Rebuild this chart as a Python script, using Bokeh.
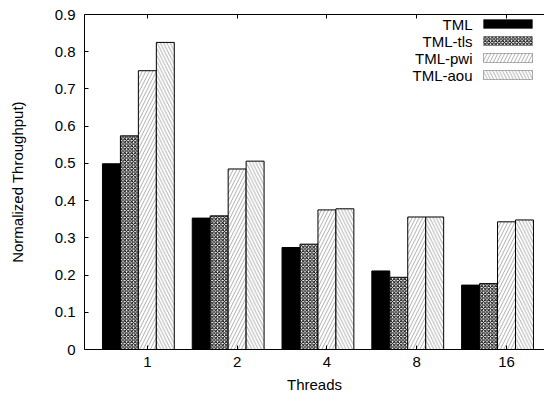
import numpy as np
from bokeh.plotting import figure
from bokeh.models import FixedTicker, LinearAxis, Range1d, Label, BoxAnnotation
from bokeh.embed import file_html
from bokeh.resources import INLINE

threads = ["1", "2", "4", "8", "16"]
series = ["TML", "TML-tls", "TML-pwi", "TML-aou"]
tml = [0.499, 0.353, 0.274, 0.211, 0.173]
tml_tls = [0.574, 0.359, 0.283, 0.194, 0.177]
tml_pwi = [0.749, 0.485, 0.375, 0.356, 0.343]
tml_aou = [0.825, 0.506, 0.378, 0.356, 0.348]
y_ticks = [0, 0.1, 0.2, 0.3, 0.4, 0.5, 0.6, 0.7, 0.8, 0.9]
y_tick_labels = ["0", "0.1", "0.2", "0.3", "0.4", "0.5", "0.6", "0.7", "0.8", "0.9"]

values = [tml, tml_tls, tml_pwi, tml_aou]
styles = [
    dict(fill_color="black"),
    dict(fill_color="white", hatch_pattern="x", hatch_scale=3.5, hatch_weight=1.0, hatch_color="black"),
    dict(fill_color="white", hatch_pattern="/", hatch_scale=7, hatch_weight=0.8, hatch_color="#9a9a9a"),
    dict(fill_color="white", hatch_pattern="\\", hatch_scale=6.5, hatch_weight=0.7, hatch_color="#8a8a8a"),
]

FONT = "Liberation Sans"
FS = "15px"

# frame placement (canvas pixels)
FRAME_LEFT = 84
FRAME_BOTTOM = 349

p = figure(width=544, height=396, x_range=Range1d(-0.7, 4.423), y_range=Range1d(0, 0.9),
           output_backend="svg", toolbar_location=None, x_axis_location=None, y_axis_location=None,
           min_border_left=FRAME_LEFT, min_border_right=0, min_border_top=14, min_border_bottom=47)
p.outline_line_color = None
p.xgrid.visible = False
p.ygrid.visible = False
p.background_fill_color = "white"
p.border_fill_color = "white"

pos = np.arange(len(threads))
n = len(series)
slot = 1.0 / (n + 1)
for k, (vals, st) in enumerate(zip(values, styles)):
    xs = pos - 0.5 + slot * (k + 0.5)
    p.vbar(x=xs, top=vals, width=slot, bottom=0, line_color="black", line_width=1, **st)

x_labels = {int(i): t for i, t in zip(pos, threads)}

xaxis = LinearAxis(ticker=FixedTicker(ticks=list(pos)), major_label_overrides=x_labels,
                   axis_label="Threads")
yaxis = LinearAxis(ticker=FixedTicker(ticks=y_ticks),
                   major_label_overrides={t: l for t, l in zip(y_ticks, y_tick_labels)},
                   axis_label="Normalized Throughput)")
top = LinearAxis(ticker=FixedTicker(ticks=list(pos)),
                 major_label_overrides={int(i): "" for i in pos})

for ax in (xaxis, yaxis, top):
    ax.major_tick_in = 4
    ax.major_tick_out = 0
    ax.minor_tick_in = 0
    ax.minor_tick_out = 0
    ax.axis_line_color = "black"
    ax.major_tick_line_color = "black"
    ax.major_label_text_font = FONT
    ax.axis_label_text_font = FONT
    ax.axis_label_text_font_style = "normal"
    ax.axis_label_text_font_size = FS
    ax.major_label_text_color = "black"
    ax.axis_label_text_color = "black"
    ax.major_label_text_font_size = FS
xaxis.major_label_standoff = 7
xaxis.axis_label_standoff = 6
yaxis.major_label_standoff = 9
yaxis.axis_label_standoff = 26
top.major_label_standoff = 0

p.add_layout(xaxis, "below")
p.add_layout(yaxis, "left")
p.add_layout(top, "above")

# legend (label then swatch, gnuplot style); screen units are frame-relative, y from bottom
row_y = [24, 41, 58, 75]
for name, st, yy in zip(series, styles, row_y):
    sy = FRAME_BOTTOM - yy
    p.add_layout(Label(x=472 - FRAME_LEFT, y=sy, x_units="screen", y_units="screen", text=name,
                       text_align="right", text_baseline="middle", text_font=FONT,
                       text_font_size=FS, text_color="black"))
    p.add_layout(BoxAnnotation(left=483 - FRAME_LEFT, right=532 - FRAME_LEFT,
                               top=sy + 5, bottom=sy - 4,
                               left_units="screen", right_units="screen",
                               top_units="screen", bottom_units="screen",
                               line_color="black", line_width=1, fill_alpha=1.0,
                               **st))

open("out.html", "w").write(file_html(p, INLINE))
